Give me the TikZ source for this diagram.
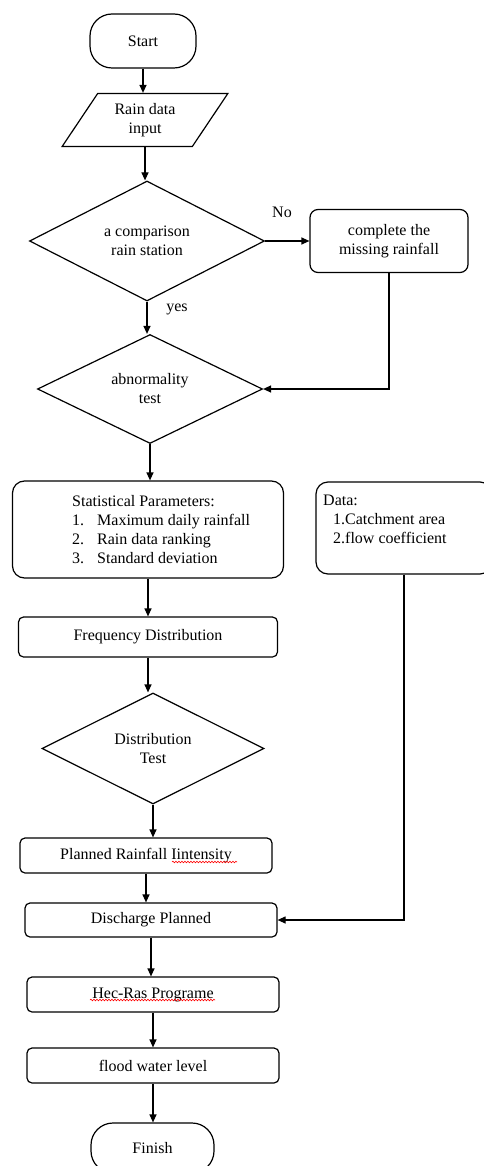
\documentclass[tikz,border=0pt]{standalone}
\usepackage{fontspec}
\setmainfont{Liberation Serif}
\usetikzlibrary{shapes.geometric,arrows.meta,decorations.pathmorphing}
\newcommand\fs{\fontsize{16}{19}\selectfont}
\tikzset{
  base/.style={draw, line width=1.2pt, font=\fs, inner sep=2pt, align=center},
  term/.style={base, rectangle, rounded corners=22pt},
  proc/.style={base, rectangle, rounded corners=5pt},
  dec/.style={base, diamond, aspect=2, inner sep=0pt},
  io/.style={base, trapezium, trapezium left angle=57, trapezium right angle=123, trapezium stretches=true},
  arr/.style={line width=1.2pt, -{Triangle[length=8pt,width=7pt]}},
  lab/.style={font=\fs, inner sep=0pt},
  squig/.style={red, line width=0.6pt, decorate, decoration={snake, amplitude=0.8pt, segment length=3pt}}
}
\begin{document}
\begin{tikzpicture}[x=1pt,y=-1pt]
\useasboundingbox (0,0) rectangle (484,1166);
\clip (0,0) rectangle (484,1166);

\node[term, minimum width=106pt, minimum height=54pt] (start) at (143,41) {Start};
\node[io, minimum width=166pt, minimum height=53pt] (inp) at (145,120) {Rain data\\input};
\node[dec, minimum width=235pt, minimum height=120pt] (cmp) at (147,241) {a comparison\\rain station};
\node[proc, rounded corners=8pt, minimum width=158pt, minimum height=63pt] (miss) at (389,241) {complete the\\missing rainfall};
\node[dec, minimum width=225pt, minimum height=109pt] (abn) at (150,389) {abnormality\\test};

\node[proc, rounded corners=12pt, minimum width=271pt, minimum height=97pt] (stats) at (148,529.5) {};
\node[lab, anchor=north west, align=left] (statstext) at (72,495)
  {Statistical Parameters:\\
   \makebox[25pt][l]{1.}Maximum daily rainfall\\
   \makebox[25pt][l]{2.}Rain data ranking\\
   \makebox[25pt][l]{3.}Standard deviation};

\node[proc, rounded corners=12pt, minimum width=176pt, minimum height=92pt] (data) at (404,528) {};
\node[lab, anchor=north west, align=left] (datatext) at (323,495)
  {Data:\\
   \hspace*{10pt}1.Catchment area\\
   \hspace*{10pt}2.flow coefficient};

\node[proc, minimum width=259pt, minimum height=40pt] (freq) at (148,637) {Frequency Distribution};
\node[dec, minimum width=222pt, minimum height=111pt] (dist) at (153,748.5) {Distribution\\Test};
\node[proc, minimum width=252pt, minimum height=35pt] (plan) at (146,855.5) {Planned Rainfall Iintensity};
\node[proc, minimum width=252pt, minimum height=34pt] (dis) at (151,920) {Discharge Planned};
\node[proc, minimum width=252pt, minimum height=35pt] (hec) at (153,994.5) {Hec-Ras Programe};
\node[proc, minimum width=252pt, minimum height=35pt] (flood) at (153,1065.5) {flood water level};
\node[term, minimum width=123pt, minimum height=50pt] (fin) at (152.5,1148) {Finish};

\node[lab] (no) at (282,212) {No};
\node[lab] (yes) at (177,309) {yes};

\draw[squig] (172,862) -- (237,862);
\draw[squig] (90,1000) -- (215,1000);

\draw[arr] (start.south) -- (start.south |- inp.north);
\draw[arr] (inp.south) -- (inp.south |- cmp.north);
\draw[arr] (cmp.south) -- (cmp.south |- abn.north);
\draw[arr] (cmp.east) -- (miss.west);
\draw[arr] (miss.south) |- (abn.east);
\draw[arr] (abn.south) -- (abn.south |- stats.north);
\draw[arr] (stats.south) -- (stats.south |- freq.north);
\draw[arr] (freq.south) -- (freq.south |- dist.north);
\draw[arr] (dist.south) -- (dist.south |- plan.north);
\draw[arr] (plan.south) -- (plan.south |- dis.north);
\draw[arr] (data.south) |- (dis.east);
\draw[arr] (dis.south) -- (dis.south |- hec.north);
\draw[arr] (hec.south) -- (hec.south |- flood.north);
\draw[arr] (flood.south) -- (flood.south |- fin.north);
\end{tikzpicture}
\end{document}
